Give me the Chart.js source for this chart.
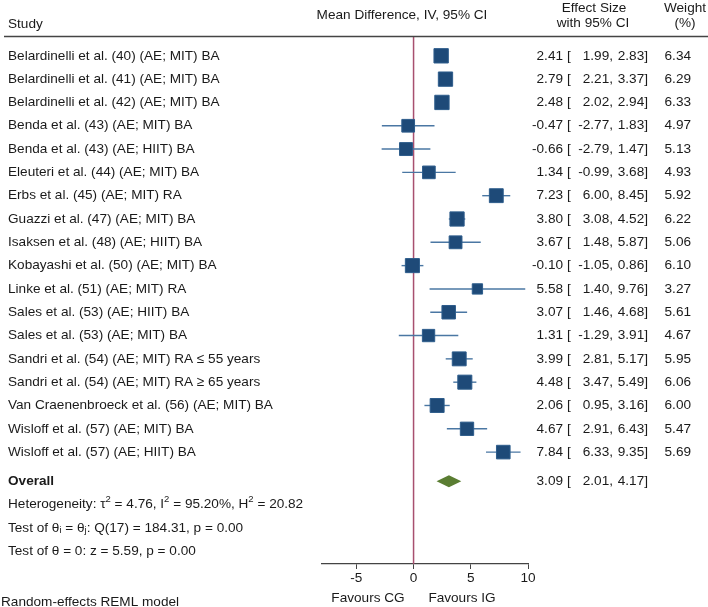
<!DOCTYPE html>
<html lang="en">
<head>
  <meta charset="UTF-8">
  <title>Forest plot</title>
  <style>
    html, body { margin: 0; padding: 0; background: #fff; }
    .grafico { width: 708px; height: 607px; }
  </style>
</head>
<body>
  <div class="grafico">
    <canvas id="myCanvas" width="708" height="607"></canvas>
  </div>

<script src="https://cdn.jsdelivr.net/npm/chart.js"></script>
<script>
  // dados
  const studies = [
    'Belardinelli et al. (40) (AE; MIT) BA',
    'Belardinelli et al. (41) (AE; MIT) BA',
    'Belardinelli et al. (42) (AE; MIT) BA',
    'Benda et al. (43) (AE; MIT) BA',
    'Benda et al. (43) (AE; HIIT) BA',
    'Eleuteri et al. (44) (AE; MIT) BA',
    'Erbs et al. (45) (AE; MIT) RA',
    'Guazzi et al. (47) (AE; MIT) BA',
    'Isaksen et al. (48) (AE; HIIT) BA',
    'Kobayashi et al. (50) (AE; MIT) BA',
    'Linke et al. (51) (AE; MIT) RA',
    'Sales et al. (53) (AE; HIIT) BA',
    'Sales et al. (53) (AE; MIT) BA',
    'Sandri et al. (54) (AE; MIT) RA \u2264 55 years',
    'Sandri et al. (54) (AE; MIT) RA \u2265 65 years',
    'Van Craenenbroeck et al. (56) (AE; MIT) BA',
    'Wisloff et al. (57) (AE; MIT) BA',
    'Wisloff et al. (57) (AE; HIIT) BA'
  ];
  const effects = [2.41, 2.79, 2.48, -0.47, -0.66, 1.34, 7.23, 3.80, 3.67, -0.10, 5.58, 3.07, 1.31, 3.99, 4.48, 2.06, 4.67, 7.84];
  const lower   = [1.99, 2.21, 2.02, -2.77, -2.79, -0.99, 6.00, 3.08, 1.48, -1.05, 1.40, 1.46, -1.29, 2.81, 3.47, 0.95, 2.91, 6.33];
  const upper   = [2.83, 3.37, 2.94, 1.83, 1.47, 3.68, 8.45, 4.52, 5.87, 0.86, 9.76, 4.68, 3.91, 5.17, 5.49, 3.16, 6.43, 9.35];
  const weights = [6.34, 6.29, 6.33, 4.97, 5.13, 4.93, 5.92, 6.22, 5.06, 6.10, 3.27, 5.61, 4.67, 5.95, 6.06, 6.00, 5.47, 5.69];
  const overall = [3.09, 2.01, 4.17]; // estimativa, inferior, superior
  const xTicks = [-5, 0, 5, 10];

  const FONT = '"Liberation Sans", Arial, Helvetica, sans-serif';
  const FS = 13.6;
  const TXT = '#1a1a1a';
  const rowOverall = 18.25;

  function fmt(v) { return v.toFixed(2); }

  // texto com sobrescrito/subscrito
  function drawRuns(ctx, x, y, runs) {
    runs.forEach(r => {
      const small = r[1] ? true : false;
      ctx.font = (small ? '9.5px ' : FS + 'px ') + FONT;
      let dy = 0;
      if (r[1] === 'sup') dy = -5;
      if (r[1] === 'sub') dy = 3;
      ctx.fillText(r[0], x, y + dy);
      x += ctx.measureText(r[0]).width;
    });
  }

  const forestPlugin = {
    id: 'forest',
    beforeDatasetsDraw(chart) {
      const ctx = chart.ctx;
      const xs = chart.scales.x, ys = chart.scales.y;
      const area = chart.chartArea;
      ctx.save();
      // linha do zero
      ctx.strokeStyle = '#a8506f';
      ctx.lineWidth = 1.5;
      ctx.beginPath();
      ctx.moveTo(xs.getPixelForValue(0), area.top);
      ctx.lineTo(xs.getPixelForValue(0), area.bottom);
      ctx.stroke();
      // intervalos de confianca
      ctx.strokeStyle = '#4a77a3';
      ctx.lineWidth = 1.4;
      effects.forEach((e, i) => {
        const y = ys.getPixelForValue(i);
        ctx.beginPath();
        ctx.moveTo(xs.getPixelForValue(lower[i]), y);
        ctx.lineTo(xs.getPixelForValue(upper[i]), y);
        ctx.stroke();
      });
      // diamante
      const yo = ys.getPixelForValue(rowOverall);
      ctx.fillStyle = '#5a7d32';
      ctx.beginPath();
      ctx.moveTo(xs.getPixelForValue(overall[1]), yo);
      ctx.lineTo(xs.getPixelForValue(overall[0]), yo - 6);
      ctx.lineTo(xs.getPixelForValue(overall[2]), yo);
      ctx.lineTo(xs.getPixelForValue(overall[0]), yo + 6);
      ctx.closePath();
      ctx.fill();
      ctx.restore();
    },
    afterDraw(chart) {
      const ctx = chart.ctx;
      const ys = chart.scales.y;
      ctx.save();
      ctx.fillStyle = TXT;
      ctx.textBaseline = 'middle';
      ctx.font = FS + 'px ' + FONT;

      // cabecalho
      ctx.textAlign = 'left';
      ctx.fillText('Study', 8, 24);
      ctx.textAlign = 'center';
      ctx.fillText('Mean Difference, IV, 95% CI', 402, 15);
      ctx.fillText('Effect Size', 594, 8);
      ctx.fillText('with 95% CI', 593, 23);
      ctx.fillText('Weight', 685, 8);
      ctx.fillText('(%)', 685, 23);
      ctx.strokeStyle = '#444';
      ctx.lineWidth = 1.3;
      ctx.beginPath();
      ctx.moveTo(4, 36.5);
      ctx.lineTo(708, 36.5);
      ctx.stroke();

      // linhas dos estudos
      const rowText = (y, e, lo, hi) => {
        ctx.textAlign = 'right';
        ctx.fillText(fmt(e), 563, y);
        ctx.textAlign = 'left';
        ctx.fillText('[', 567, y);
        ctx.textAlign = 'right';
        ctx.fillText(fmt(lo) + ',', 613, y);
        ctx.fillText(fmt(hi) + ']', 648, y);
      };
      studies.forEach((s, i) => {
        const y = ys.getPixelForValue(i);
        ctx.textAlign = 'left';
        ctx.fillText(s, 8, y);
        rowText(y, effects[i], lower[i], upper[i]);
        ctx.textAlign = 'right';
        ctx.fillText(fmt(weights[i]), 691, y);
      });

      // overall
      const yo = ys.getPixelForValue(rowOverall);
      ctx.textAlign = 'left';
      ctx.font = 'bold ' + FS + 'px ' + FONT;
      ctx.fillText('Overall', 8, yo);
      ctx.font = FS + 'px ' + FONT;
      rowText(yo, overall[0], overall[1], overall[2]);

      ctx.textAlign = 'left';
      drawRuns(ctx, 8, ys.getPixelForValue(rowOverall + 1), [
        ['Heterogeneity: \u03c4'], ['2', 'sup'], [' = 4.76, I'], ['2', 'sup'],
        [' = 95.20%, H'], ['2', 'sup'], [' = 20.82']
      ]);
      drawRuns(ctx, 8, ys.getPixelForValue(rowOverall + 2), [
        ['Test of \u03b8'], ['i', 'sub'], [' = \u03b8'], ['j', 'sub'], [': Q(17) = 184.31, p = 0.00']
      ]);
      drawRuns(ctx, 8, ys.getPixelForValue(rowOverall + 3), [
        ['Test of \u03b8 = 0: z = 5.59, p = 0.00']
      ]);

      ctx.font = FS + 'px ' + FONT;
      ctx.textAlign = 'left';
      ctx.fillText('Random-effects REML model', 1, 602);
      ctx.textAlign = 'center';
      ctx.fillText('Favours CG', 368, 598);
      ctx.fillText('Favours IG', 462, 598);
      ctx.restore();
    }
  };

  const ctx = document.getElementById('myCanvas').getContext('2d');
  const chart = new Chart(ctx, {
    type: 'scatter',
    data: {
      datasets: [{
        label: 'Studies',
        data: effects.map((e, i) => ({ x: e, y: i })),
        pointStyle: 'rect',
        pointRadius: weights.map(w => 5.7 * Math.sqrt(w) / 1.414),
        backgroundColor: '#1e4a78',
        borderColor: '#2e5d8c',
        borderWidth: 1,
        clip: false
      }]
    },
    options: {
      responsive: false,
      animation: false,
      layout: { padding: { left: 322, right: 180, top: 36, bottom: 0 } },
      plugins: { legend: { display: false }, tooltip: { enabled: false } },
      scales: {
        x: {
          type: 'linear',
          min: -8,
          max: 10,
          afterBuildTicks: (scale) => { scale.ticks = xTicks.map(v => ({ value: v })); },
          afterFit: (scale) => { scale.height = 43; },
          grid: { drawOnChartArea: false, tickLength: 5, color: '#444', lineWidth: 1 },
          border: { color: '#444', width: 1.3 },
          ticks: { font: { family: FONT, size: FS }, color: TXT, padding: 1, maxRotation: 0 }
        },
        y: {
          type: 'linear',
          display: false,
          reverse: true,
          min: -0.85,
          max: 21.8
        }
      }
    },
    plugins: [forestPlugin]
  });
</script>
</body>
</html>
